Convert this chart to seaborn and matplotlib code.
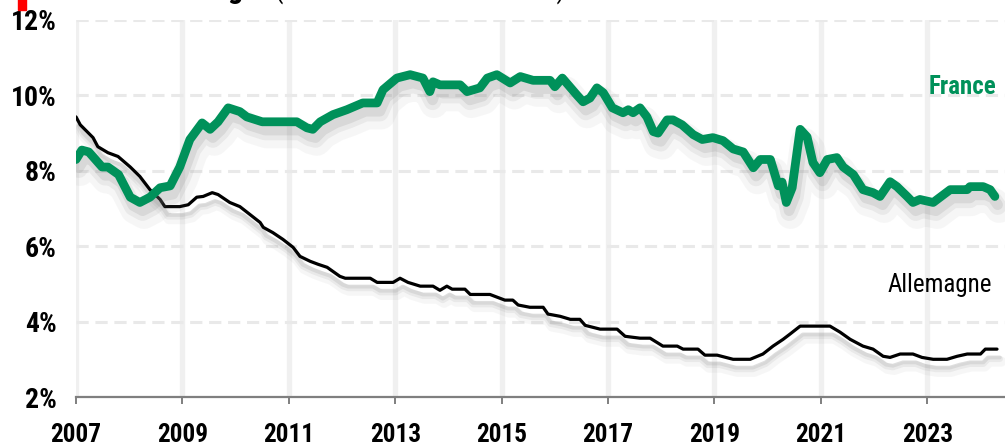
import matplotlib
matplotlib.use("Agg")
import matplotlib.pyplot as plt
import matplotlib.patheffects as pe
from matplotlib import font_manager
from matplotlib.font_manager import FontProperties
import seaborn as sns
import pandas as pd

# ---------------- data (decimal years, unemployment rate %) ----------------
france_dates = [2007.00, 2007.11, 2007.24, 2007.49, 2007.60, 2007.80, 2008.02, 2008.20,
                2008.39, 2008.58, 2008.77, 2008.95, 2009.14, 2009.37, 2009.52, 2009.67,
                2009.86, 2010.08, 2010.21, 2010.50, 2011.15, 2011.34, 2011.45, 2011.59,
                2011.83, 2012.09, 2012.39, 2012.66, 2012.77, 2013.03, 2013.28, 2013.52,
                2013.65, 2013.71, 2013.84, 2014.22, 2014.35, 2014.59, 2014.73, 2014.91,
                2015.16, 2015.35, 2015.59, 2015.91, 2016.00, 2016.14, 2016.42, 2016.53,
                2016.66, 2016.79, 2016.91, 2017.08, 2017.28, 2017.38, 2017.47, 2017.60,
                2017.73, 2017.85, 2017.94, 2018.11, 2018.22, 2018.39, 2018.60, 2018.77,
                2018.97, 2019.16, 2019.35, 2019.54, 2019.73, 2019.86, 2020.05, 2020.20,
                2020.27, 2020.35, 2020.46, 2020.61, 2020.74, 2020.85, 2020.98, 2021.12,
                2021.30, 2021.42, 2021.61, 2021.79, 2021.98, 2022.11, 2022.30, 2022.43,
                2022.62, 2022.73, 2022.86, 2023.11, 2023.43, 2023.75, 2023.80, 2024.05,
                2024.18, 2024.27]
france_values = [8.30, 8.55, 8.50, 8.10, 8.10, 7.90, 7.30, 7.16,
                 7.30, 7.55, 7.60, 8.10, 8.83, 9.27, 9.10, 9.30,
                 9.67, 9.57, 9.43, 9.30, 9.30, 9.14, 9.10, 9.30,
                 9.49, 9.62, 9.80, 9.80, 10.15, 10.46, 10.55, 10.46,
                 10.10, 10.36, 10.28, 10.28, 10.10, 10.20, 10.46, 10.55,
                 10.33, 10.50, 10.40, 10.40, 10.23, 10.46, 10.00, 9.83,
                 9.93, 10.20, 10.07, 9.67, 9.54, 9.62, 9.54, 9.67,
                 9.43, 9.04, 9.00, 9.35, 9.35, 9.22, 8.96, 8.83,
                 8.88, 8.80, 8.58, 8.50, 8.08, 8.30, 8.30, 7.60,
                 7.70, 7.16, 7.55, 9.10, 8.90, 8.22, 7.95, 8.30,
                 8.35, 8.10, 7.90, 7.50, 7.42, 7.32, 7.71, 7.58,
                 7.32, 7.16, 7.24, 7.16, 7.50, 7.50, 7.58, 7.58,
                 7.50, 7.32]

germany_dates = [2007.00, 2007.08, 2007.32, 2007.41, 2007.60, 2007.79, 2008.02, 2008.20,
                 2008.39, 2008.58, 2008.67, 2008.95, 2009.11, 2009.27, 2009.39, 2009.56,
                 2009.67, 2009.89, 2010.08, 2010.27, 2010.46, 2010.52, 2010.70, 2010.89,
                 2011.08, 2011.21, 2011.40, 2011.55, 2011.72, 2011.96, 2012.06, 2012.53,
                 2012.66, 2012.96, 2013.09, 2013.24, 2013.47, 2013.71, 2013.84, 2013.97,
                 2014.07, 2014.31, 2014.41, 2014.78, 2014.91, 2015.06, 2015.21, 2015.31,
                 2015.53, 2015.78, 2015.87, 2016.10, 2016.29, 2016.47, 2016.57, 2016.85,
                 2017.17, 2017.32, 2017.60, 2017.79, 2018.03, 2018.30, 2018.41, 2018.69,
                 2018.82, 2019.05, 2019.35, 2019.67, 2019.91, 2020.10, 2020.29, 2020.42,
                 2020.61, 2021.17, 2021.36, 2021.55, 2021.79, 2021.98, 2022.17, 2022.30,
                 2022.49, 2022.73, 2022.90, 2023.11, 2023.37, 2023.56, 2023.75, 2024.00,
                 2024.09, 2024.31]
germany_values = [9.43, 9.22, 8.88, 8.64, 8.48, 8.38, 8.10, 7.85,
                  7.50, 7.24, 7.05, 7.05, 7.10, 7.30, 7.32, 7.42,
                  7.37, 7.16, 7.05, 6.84, 6.63, 6.50, 6.36, 6.18,
                  5.97, 5.73, 5.60, 5.52, 5.44, 5.20, 5.15, 5.15,
                  5.04, 5.04, 5.15, 5.04, 4.94, 4.94, 4.83, 4.94,
                  4.86, 4.86, 4.72, 4.72, 4.65, 4.57, 4.57, 4.44,
                  4.38, 4.38, 4.20, 4.14, 4.06, 4.06, 3.90, 3.80,
                  3.80, 3.61, 3.56, 3.56, 3.35, 3.35, 3.27, 3.27,
                  3.11, 3.11, 3.00, 3.00, 3.14, 3.35, 3.53, 3.67,
                  3.88, 3.88, 3.72, 3.53, 3.35, 3.27, 3.08, 3.05,
                  3.14, 3.14, 3.05, 3.00, 3.00, 3.08, 3.14, 3.14,
                  3.27, 3.27]

x_ticks = [2007, 2009, 2011, 2013, 2015, 2017, 2019, 2021, 2023]
x_tick_labels = [str(t) for t in x_ticks]
y_ticks = [2, 4, 6, 8, 10, 12]
y_tick_labels = [f"{t}%" for t in y_ticks]

series_names = ["France", "Allemagne"]
title_main = "Taux de chômage"
title_sub = "(en % de la force de travail)"

# ---------------- style ----------------
sns.set_theme(style="white")
plt.rcParams["font.family"] = ["Liberation Sans", "DejaVu Sans"]


def _is_bold(f):
    w = f.weight
    if isinstance(w, str):
        return "bold" in w.lower() or "heavy" in w.lower() or "black" in w.lower()
    return w >= 600


def find_condensed(bold):
    prefs = ["liberation sans narrow", "arial narrow", "roboto condensed",
             "open sans condensed", "noto sans condensed", "dejavu sans condensed"]
    best = None
    best_rank = 99
    for f in font_manager.fontManager.ttflist:
        name = f.name.lower()
        fn = f.fname.lower()
        if "italic" in fn or "oblique" in fn or f.style != "normal":
            continue
        if _is_bold(f) != bold:
            continue
        key = name
        if "condensed" in fn.replace("semicondensed", "x") and "condensed" not in name:
            key = name + " condensed"
        for i, p in enumerate(prefs):
            if p in key or p.replace(" ", "") in fn.replace("-", "").replace("_", ""):
                if i < best_rank:
                    best, best_rank = f, i
    if best is not None:
        return FontProperties(fname=best.fname)
    return FontProperties(family="Liberation Sans", weight="bold" if bold else "normal")


fp_bold = find_condensed(True)
fp_reg = find_condensed(False)

GREEN = "#00915A"

fig = plt.figure(figsize=(10.05, 4.47), dpi=100)
renderer = fig.canvas.get_renderer()


def fit_size(text, fp, target_w, target_cap, slack=1.15):
    t = fig.text(0, 0, text, fontproperties=fp, size=10)
    w = t.get_window_extent(renderer).width
    t.remove()
    s_w = 10 * target_w / w
    s_h = target_cap / 0.72 / (100 / 72)
    return min(s_w * slack, s_h)


ax = fig.add_axes([76 / 1005, 1 - 397 / 447, 1 - 76 / 1005, (397 - 20) / 447])

df_fr = pd.DataFrame({"date": france_dates, "taux": france_values})
df_de = pd.DataFrame({"date": germany_dates, "taux": germany_values})

sns.lineplot(data=df_de, x="date", y="taux", ax=ax, color="black", linewidth=2.3, zorder=4)
sns.lineplot(data=df_fr, x="date", y="taux", ax=ax, color=GREEN, linewidth=6.3, zorder=5)

for line, lw in zip(ax.lines, [2.3, 6.3]):
    line.set_solid_joinstyle("round")
    line.set_solid_capstyle("round")
    line.set_path_effects([
        pe.SimpleLineShadow(offset=(3, -9), shadow_color="0.55", alpha=0.07, linewidth=lw * 3.2),
        pe.SimpleLineShadow(offset=(2, -7), shadow_color="0.55", alpha=0.12, linewidth=lw * 2.0),
        pe.SimpleLineShadow(offset=(2, -6), shadow_color="0.5", alpha=0.16, linewidth=lw * 1.2),
        pe.Normal(),
    ])

ax.set_xlim(2007, 2024.46)
ax.set_ylim(2, 12)

# grids
for t in x_ticks:
    ax.axvline(t, color="#f0f0f0", linewidth=3.8, zorder=1)
for t in y_ticks[1:]:
    ax.axhline(t, color="#e9e9e9", linewidth=2.2, linestyle=(0, (4, 2.2)), zorder=1)

xs = fit_size("2007", fp_bold, 42, 22, slack=1.22)
ys = fit_size("12%", fp_bold, 42, 20, slack=1.22)

ax.set_xticks(x_ticks)
ax.set_xticklabels(x_tick_labels, fontproperties=fp_bold, size=xs)
ax.set_yticks(y_ticks)
ax.set_yticklabels(y_tick_labels, fontproperties=fp_bold, size=ys)
ax.set_xlabel("")
ax.set_ylabel("")

for s in ["top", "right", "left"]:
    ax.spines[s].set_visible(False)
ax.spines["bottom"].set_color("#7f7f7f")
ax.spines["bottom"].set_linewidth(1.6)
ax.spines["bottom"].set_zorder(6)

ax.tick_params(axis="x", which="major", bottom=True, length=5, width=1.4,
               color="#7f7f7f", pad=14)
ax.tick_params(axis="y", which="major", left=False, length=0, pad=14)
for lab in ax.get_xticklabels() + ax.get_yticklabels():
    lab.set_color("black")

# series labels
fs = fit_size(series_names[0], fp_bold, 70, 18)
ax.text(2024.3, 10.22, series_names[0], color=GREEN, fontproperties=fp_bold, size=fs,
        ha="right", va="center")
als = fit_size(series_names[1], fp_reg, 100, 18)
ax.text(2024.22, 4.98, series_names[1], color="black", fontproperties=fp_reg, size=als,
        ha="right", va="center")

# title, cut off by the top edge as in the source
fig.patches.append(plt.Rectangle((18 / 1005, 1 - 10 / 447), 8 / 1005, 12 / 447,
                                 transform=fig.transFigure, color="#ff0000", zorder=10))
ts = fit_size(title_main, fp_bold, 220, 22)
fig.text(258 / 1005, 1 + 2 / 447, title_main, fontproperties=fp_bold, size=ts,
         ha="right", va="baseline", color="black")
ss = fit_size(title_sub, fp_reg, 250, 22)
fig.text(275 / 1005, 1 + 2 / 447, title_sub, fontproperties=fp_reg, size=ss,
         ha="left", va="baseline", color="black")

fig.savefig("out.png", dpi=100)
